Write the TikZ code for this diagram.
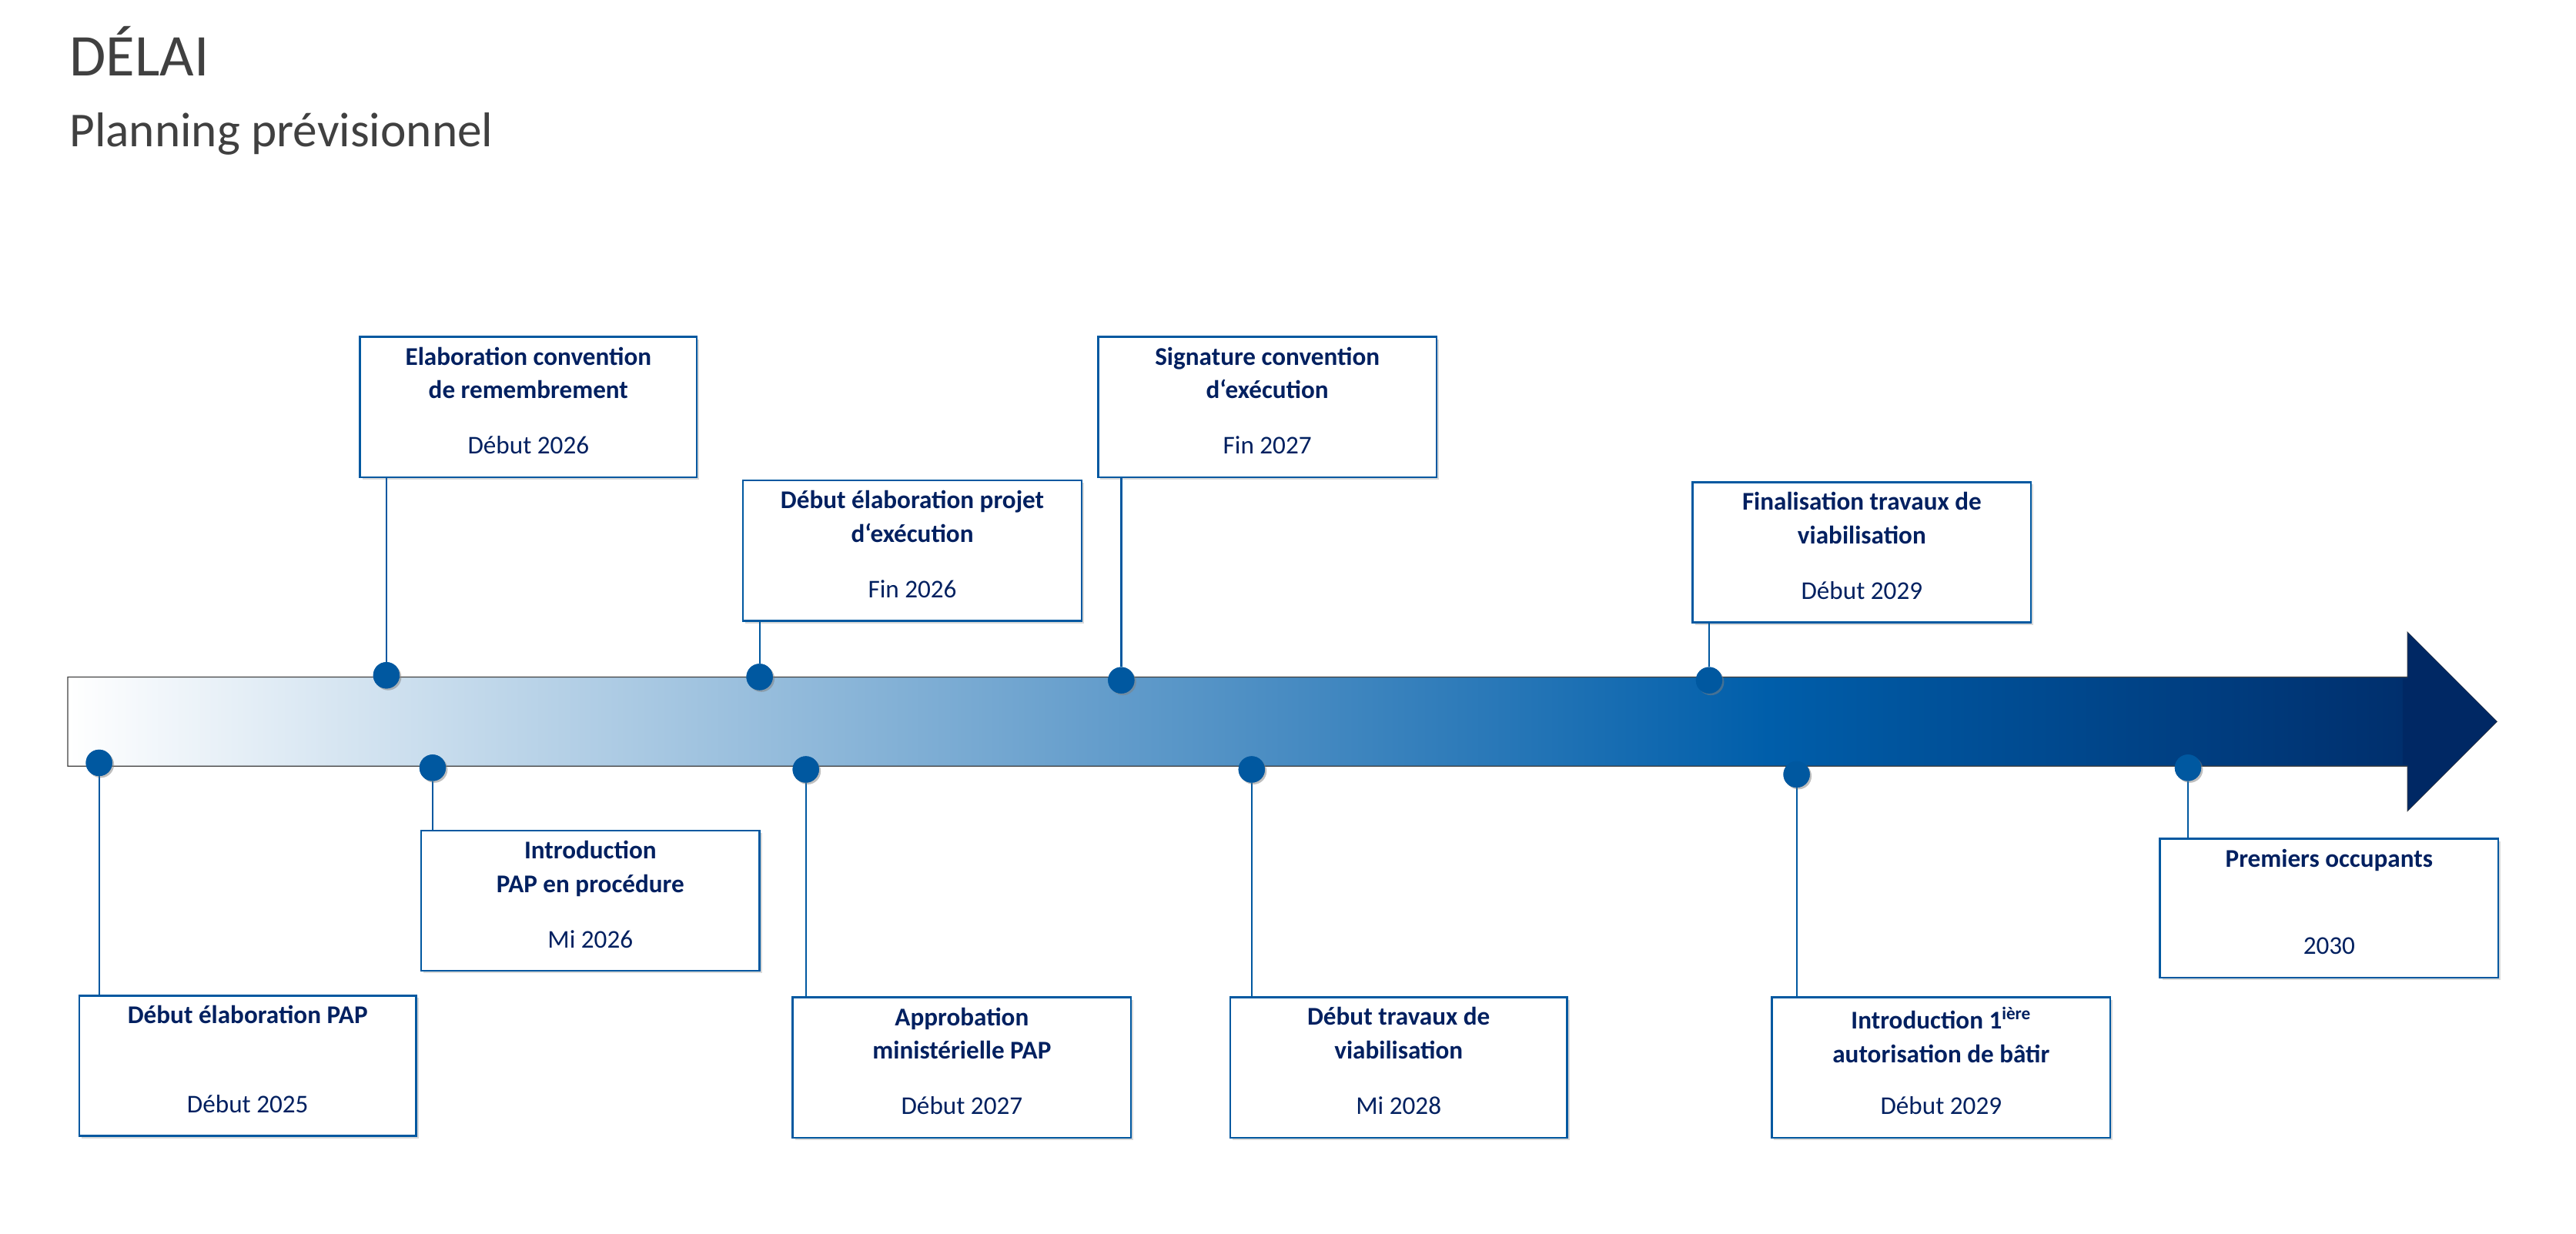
\documentclass[tikz,border=0pt]{standalone}
\usepackage{fontspec}
\setmainfont{Carlito}
\usetikzlibrary{shadows}
\definecolor{navy}{RGB}{0,32,96}
\definecolor{bord}{RGB}{0,88,160}
\definecolor{mid}{RGB}{0,94,170}
\definecolor{dark}{RGB}{0,40,100}
\definecolor{tgray}{RGB}{64,64,64}
\pgfdeclarehorizontalshading{tl}{100bp}{color(0bp)=(white); color(25bp)=(white); color(60bp)=(mid); color(75bp)=(dark); color(100bp)=(dark)}
\tikzset{
 mbox/.style={draw=bord, line width=1.6pt, fill=white, drop shadow={shadow xshift=2pt,shadow yshift=-2pt,opacity=0.3}, inner sep=0pt},
 mtitle/.style={text=navy, font=\fontsize{22}{29}\selectfont\bfseries, align=center, inner sep=0pt, anchor=north},
 mdate/.style={text=navy, font=\fontsize{22}{26}\selectfont, inner sep=0pt, anchor=base},
 mdot/.style={circle, fill=bord, minimum size=16*0.05cm, inner sep=0pt, drop shadow={shadow xshift=1.5pt,shadow yshift=-1.5pt,opacity=0.3}},
 mline/.style={draw=bord, line width=1.5pt}
}
% #1 name, #2 x1, #3 y1, #4 x2, #5 y2, #6 title, #7 date, #8 dotx, #9 doty
\newcommand\mstone[9]{
 \node[mbox, minimum width={(#4-#2)*0.05cm}, minimum height={(#5-#3)*0.05cm}] (#1) at ({(#2+#4)/2},{(#3+#5)/2}) {};
 \node[mtitle] (#1t) at ({(#2+#4)/2},{#3+6}) {#6};
 \node[mdate] (#1d) at ({(#2+#4)/2},{#5-14}) {#7};
 \node[mdot] (#1p) at (#8,#9) {};
}
\begin{document}
\begin{tikzpicture}[x=0.05cm,y=-0.05cm]
\useasboundingbox (0,0) rectangle (1560,747);
\node[anchor=base west, inner sep=0pt, text=tgray, font=\fontsize{51}{51}\selectfont] (title) at (42,46) {DÉLAI};
\node[anchor=base west, inner sep=0pt, text=tgray, font=\fontsize{42}{42}\selectfont] (sub) at (42,89) {Planning prévisionnel};
\shade[shading=tl, draw=tgray, line width=0.8pt] (41,410) -- (1458,410) -- (1458,383) -- (1512,437) -- (1458,491) -- (1458,464) -- (41,464) -- cycle;
\fill[dark] (1455,411) -- (1458,411) -- (1458,383) -- (1512,437) -- (1458,491) -- (1458,463) -- (1455,463) -- cycle;
\mstone{a}{48}{603}{252}{688}{Début élaboration PAP}{Début 2025}{60}{462}
\mstone{b}{218}{204}{422}{289}{Elaboration convention\\de remembrement}{Début 2026}{234}{409}
\mstone{c}{255}{503}{460}{588}{Introduction\\PAP en procédure}{Mi 2026}{262}{465}
\mstone{d}{450}{291}{655}{376}{Début élaboration projet\\d‘exécution}{Fin 2026}{460}{410}
\mstone{e}{480}{604}{685}{689}{Approbation\\ministérielle PAP}{Début 2027}{488}{466}
\mstone{f}{665}{204}{870}{289}{Signature convention\\d‘exécution}{Fin 2027}{679}{412}
\mstone{g}{745}{604}{949}{689}{Début travaux de\\viabilisation}{Mi 2028}{758}{466}
\mstone{h}{1025}{292}{1230}{377}{Finalisation travaux de\\viabilisation}{Début 2029}{1035}{412}
\mstone{i}{1073}{604}{1278}{689}{Introduction 1\textsuperscript{ière}\\autorisation de bâtir}{Début 2029}{1088}{469}
\mstone{j}{1308}{508}{1513}{592}{Premiers occupants}{2030}{1325}{465}
\foreach \n in {a,c,e,g,i,j} \draw[mline] (\n p) -- (\n p |- \n.north);
\foreach \n in {b,d,f,h} \draw[mline] (\n p) -- (\n p |- \n.south);
\foreach \n in {a,b,c,d,e,f,g,h,i,j} \node[mdot] at (\n p) {};
\end{tikzpicture}
\end{document}
